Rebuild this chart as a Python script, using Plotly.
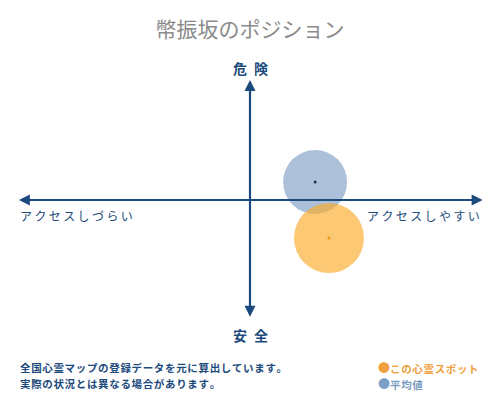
import plotly.graph_objects as go

# positions on the map: x = accessibility (-1 hard .. 1 easy), y = danger (-1 safe .. 1 dangerous)
series_names = ["平均値", "この心霊スポット"]
x_values = [0.277, 0.336]
y_values = [0.15, -0.317]
bubble_sizes = [64, 70]
bubble_colors = ["rgba(70,115,170,0.45)", "rgba(250,170,40,0.65)"]
dot_colors = ["#1c3455", "#f09a10"]

title_text = "幣振坂のポジション"
axis_labels = {"top": "危\u2002険", "bottom": "安\u2002全",
               "left": "アクセスしづらい", "right": "アクセスしやすい"}
notes = ["全国心霊マップの登録データを元に算出しています。",
         "実際の状況とは異なる場合があります。"]

navy = "#1c4a7c"
font_jp = "Noto Sans CJK JP"


def spaced(s, sep="\u2009"):
    return sep.join(s)


fig = go.Figure()
for name, x, y, s, c in zip(series_names, x_values, y_values, bubble_sizes, bubble_colors):
    fig.add_trace(go.Scatter(x=[x], y=[y], mode="markers", name=name,
                             marker=dict(size=s, color=c, line=dict(width=0))))
for x, y, c in zip(x_values, y_values, dot_colors):
    fig.add_trace(go.Scatter(x=[x], y=[y], mode="markers",
                             marker=dict(size=3, color=c), showlegend=False))

# axis arrows
fig.add_annotation(x=0, y=1, ax=0, ay=-0.985, xref="x", yref="y", axref="x", ayref="y",
                   text="", showarrow=True, arrowhead=2, arrowside="end+start",
                   arrowsize=1, arrowwidth=2.2, arrowcolor=navy)
fig.add_annotation(x=0.99, y=0, ax=-0.99, ay=0, xref="x", yref="y", axref="x", ayref="y",
                   text="", showarrow=True, arrowhead=2, arrowside="end+start",
                   arrowsize=1, arrowwidth=2.2, arrowcolor=navy)


def py(p):
    # pixel row -> paper y
    return (320 - p) / 240


def px_(p):
    return (p - 15) / 470


lab_font = dict(family=font_jp, size=14, color=navy)
fig.add_annotation(x=0.5, y=py(68), xref="paper", yref="paper", yanchor="middle",
                   text="<b>" + axis_labels["top"] + "</b>", showarrow=False, font=lab_font)
fig.add_annotation(x=0.5, y=py(335), xref="paper", yref="paper", yanchor="middle",
                   text="<b>" + axis_labels["bottom"] + "</b>", showarrow=False, font=lab_font)
side_font = dict(family=font_jp, size=12, color=navy)
fig.add_annotation(x=px_(18), y=py(215), xref="paper", yref="paper",
                   xanchor="left", yanchor="middle", text=spaced(axis_labels["left"]),
                   showarrow=False, font=side_font)
fig.add_annotation(x=px_(482), y=py(215), xref="paper", yref="paper",
                   xanchor="right", yanchor="middle", text=spaced(axis_labels["right"]),
                   showarrow=False, font=side_font)

note_font = dict(family=font_jp, size=10.5, color=navy)
for i, line in enumerate(notes):
    fig.add_annotation(x=px_(18), y=py(367 + 16 * i), xref="paper", yref="paper",
                       xanchor="left", yanchor="middle",
                       text="<b>" + spaced(line, "\u200a") + "</b>", showarrow=False,
                       font=note_font)

legend_text_colors = ["#f0a040", "#7a9cc0"]
legend_dot_colors = ["#f0a040", "#7aa0c8"]
for i, name in enumerate(reversed(series_names)):
    fig.add_annotation(x=px_(376), y=py(367 + 16 * i),
                       xref="paper", yref="paper", xanchor="left", yanchor="middle",
                       showarrow=False,
                       text="<span style='color:%s;font-size:12px'>●</span><b>%s</b>"
                            % (legend_dot_colors[i], spaced(name, "\u200a")),
                       font=dict(family=font_jp, size=10.5, color=legend_text_colors[i]))

fig.update_layout(
    width=500, height=400,
    margin=dict(l=15, r=15, t=80, b=80),
    paper_bgcolor="white", plot_bgcolor="white",
    showlegend=False,
    title=dict(text=title_text, x=0.5, xanchor="center", y=1 - 30 / 400, yanchor="middle",
               font=dict(family=font_jp, size=21, color="#8a8a8a")),
    xaxis=dict(range=[-1, 1], visible=False, fixedrange=True),
    yaxis=dict(range=[-1, 1], visible=False, fixedrange=True),
)

fig.write_html("out.html", config={"displayModeBar": False},
               post_script="document.body.style.margin='0px';")
